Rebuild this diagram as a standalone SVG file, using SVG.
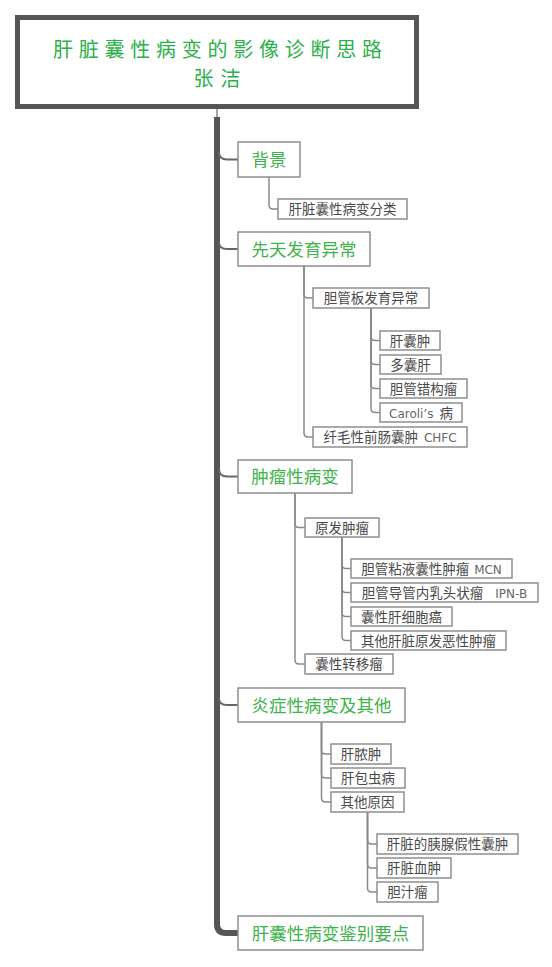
<svg xmlns="http://www.w3.org/2000/svg" width="552" height="967" viewBox="0 0 552 967">
<style>
.bg{fill:#ffffff}
.title{fill:#ffffff;stroke:#555555;stroke-width:5}
.tt{font-family:"Noto Sans CJK SC","Noto Sans",sans-serif;font-size:20px;fill:#2bb04a;text-anchor:middle}
.n1 rect{fill:#ffffff;stroke:#8e8e8e;stroke-width:1.5}
.n1 text{font-family:"Noto Sans CJK SC","Noto Sans",sans-serif;font-size:17.5px;fill:#3fb34c;text-anchor:middle}
.n2 rect{fill:#ffffff;stroke:#8e8e8e;stroke-width:1.5}
.n2 text{font-family:"Noto Sans CJK SC","Noto Sans",sans-serif;font-size:13.5px;fill:#4a4a4a;text-anchor:middle}
.lat{font-family:"DejaVu Sans","Noto Sans",sans-serif;font-size:12px;fill:#666666}
.trunk{fill:none;stroke:#555555;stroke-width:6;stroke-linecap:butt}
.c1{fill:none;stroke:#666666;stroke-width:2}
.c2{fill:none;stroke:#8a8a8a;stroke-width:1.5}
</style>
<rect class="bg" x="0" y="0" width="552" height="967"/>

<g id="connectors">
  <line class="c2" x1="217" y1="109" x2="217" y2="118"/>
  <path class="trunk" d="M217,117 V924 Q217,933 226,933 H238"/>
  <path class="c1" d="M219,152 Q219,159.5 227,159.5 H238"/>
  <path class="c1" d="M219,242 Q219,249 227,249 H238"/>
  <path class="c1" d="M219,469 Q219,476.5 227,476.5 H238"/>
  <path class="c1" d="M219,698 Q219,705 227,705 H238"/>

  <path class="c2" d="M269,177 V205 Q269,209 273,209 H278"/>

  <path class="c2" d="M304,266 V294 Q304,298 308,298 H313"/>
  <path class="c2" d="M304,266 V433 Q304,437 308,437 H313"/>

  <path class="c2" d="M371,308 V336.5 Q371,340.5 375,340.5 H380"/>
  <path class="c2" d="M371,308 V360.5 Q371,364.5 375,364.5 H380"/>
  <path class="c2" d="M371,308 V384.5 Q371,388.5 375,388.5 H380"/>
  <path class="c2" d="M371,308 V408.5 Q371,412.5 375,412.5 H380"/>

  <path class="c2" d="M295,493 V523.5 Q295,527.5 299,527.5 H305"/>
  <path class="c2" d="M295,493 V660 Q295,664 299,664 H305"/>

  <path class="c2" d="M342,537 V564.5 Q342,568.5 346,568.5 H351"/>
  <path class="c2" d="M342,537 V588.5 Q342,592.5 346,592.5 H351"/>
  <path class="c2" d="M342,537 V612.5 Q342,616.5 346,616.5 H351"/>
  <path class="c2" d="M342,537 V636.5 Q342,640.5 346,640.5 H351"/>

  <path class="c2" d="M321.5,722 V750 Q321.5,754 325.5,754 H331"/>
  <path class="c2" d="M321.5,722 V774 Q321.5,778 325.5,778 H331"/>
  <path class="c2" d="M321.5,722 V798 Q321.5,802 325.5,802 H331"/>

  <path class="c2" d="M367.5,812 V840 Q367.5,844 371.5,844 H377"/>
  <path class="c2" d="M367.5,812 V864 Q367.5,868 371.5,868 H377"/>
  <path class="c2" d="M367.5,812 V888 Q367.5,892 371.5,892 H377"/>
</g>

<g id="root">
  <rect class="title" x="17.5" y="17.5" width="399" height="89"/>
  <text class="tt"><tspan x="217.5" y="57" textLength="329" lengthAdjust="spacing">肝脏囊性病变的影像诊断思路</tspan><tspan x="217" y="86" textLength="47" lengthAdjust="spacing">张洁</tspan></text>
</g>

<g id="n-beijing" class="n1"><rect x="238" y="142" width="62" height="35"/><text x="269" y="166">背景</text></g>
<g id="n-fenlei" class="n2"><rect x="278" y="199" width="129" height="20"/><text x="342.5" y="214">肝脏囊性病变分类</text></g>

<g id="n-xiantian" class="n1"><rect x="238" y="232" width="132" height="34"/><text x="304" y="255.5">先天发育异常</text></g>
<g id="n-danguanban" class="n2"><rect x="313" y="288" width="116" height="20"/><text x="371" y="303">胆管板发育异常</text></g>
<g id="n-ganlangzhong" class="n2"><rect x="380" y="331" width="60" height="19"/><text x="410" y="345.5">肝囊肿</text></g>
<g id="n-duonanggan" class="n2"><rect x="380" y="355" width="61" height="19"/><text x="410.5" y="369.5">多囊肝</text></g>
<g id="n-cuogouliu" class="n2"><rect x="380" y="379" width="87" height="19"/><text x="423.5" y="393.5">胆管错构瘤</text></g>
<g id="n-caroli" class="n2"><rect x="380" y="403" width="82" height="19"/><text x="421" y="417.5"><tspan class="lat">Caroli’s</tspan><tspan dx="6">病</tspan></text></g>
<g id="n-chfc" class="n2"><rect x="313" y="427" width="154" height="20"/><text x="390" y="442">纤毛性前肠囊肿<tspan class="lat" dx="6">CHFC</tspan></text></g>

<g id="n-zhongliu" class="n1"><rect x="238" y="460" width="114" height="33"/><text x="295" y="483">肿瘤性病变</text></g>
<g id="n-yuanfa" class="n2"><rect x="305" y="518" width="74" height="19"/><text x="342" y="532.5">原发肿瘤</text></g>
<g id="n-mcn" class="n2"><rect x="351" y="559" width="161" height="19"/><text x="431.5" y="573.5">胆管粘液囊性肿瘤<tspan class="lat" dx="5">MCN</tspan></text></g>
<g id="n-ipnb" class="n2"><rect x="351" y="583" width="187" height="19"/><text x="444.5" y="597.5">胆管导管内乳头状瘤<tspan class="lat" dx="12">IPN-B</tspan></text></g>
<g id="n-xibao" class="n2"><rect x="351" y="607" width="101" height="19"/><text x="401.5" y="621.5">囊性肝细胞癌</text></g>
<g id="n-qita-e" class="n2"><rect x="351" y="631" width="155" height="19"/><text x="428.5" y="645.5">其他肝脏原发恶性肿瘤</text></g>
<g id="n-zhuanyi" class="n2"><rect x="305" y="654" width="88" height="20"/><text x="349" y="669">囊性转移瘤</text></g>

<g id="n-yanzheng" class="n1"><rect x="238" y="688" width="167" height="34"/><text x="321.5" y="711.5">炎症性病变及其他</text></g>
<g id="n-nongzhong" class="n2"><rect x="331" y="744" width="60" height="20"/><text x="361" y="759">肝脓肿</text></g>
<g id="n-baochong" class="n2"><rect x="331" y="768" width="74" height="20"/><text x="368" y="783">肝包虫病</text></g>
<g id="n-qitayuanyin" class="n2"><rect x="331" y="792" width="73" height="20"/><text x="367.5" y="807">其他原因</text></g>
<g id="n-jiaxing" class="n2"><rect x="377" y="834" width="141" height="20"/><text x="447.5" y="849">肝脏的胰腺假性囊肿</text></g>
<g id="n-xuezhong" class="n2"><rect x="377" y="858" width="74" height="20"/><text x="414" y="873">肝脏血肿</text></g>
<g id="n-danzhiliu" class="n2"><rect x="377" y="882" width="61" height="20"/><text x="407.5" y="897">胆汁瘤</text></g>

<g id="n-jianbie" class="n1"><rect x="238" y="916" width="185" height="34"/><text x="330.5" y="939.5">肝囊性病变鉴别要点</text></g>
</svg>
